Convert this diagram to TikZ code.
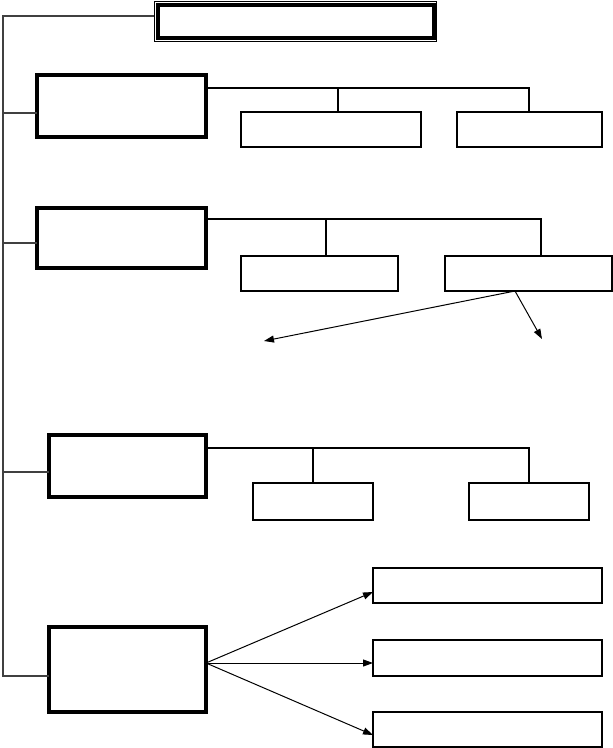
\documentclass[tikz,border=0pt]{standalone}
\usetikzlibrary{arrows.meta}
\begin{document}
\begin{tikzpicture}[x=1pt,y=-1pt,
  trunk/.style={draw=black!75,line width=1.6pt},
  bigbox/.style={draw,line width=3.6pt,inner sep=0pt,outer sep=0pt},
  smallbox/.style={draw,line width=1.2pt,inner sep=0pt,outer sep=0pt},
  link/.style={line width=1.2pt},
  arr/.style={line width=1pt,-{Triangle[length=10pt,width=7pt]}}]
\useasboundingbox (0,0) rectangle (613,748);
% top box
\node[draw,line width=0.8pt,minimum width=282pt,minimum height=40pt,inner sep=0pt,outer sep=0pt] (top) at (295,21) {};
\node[draw,line width=4pt,minimum width=276pt,minimum height=33pt,inner sep=0pt] (topin) at (295.5,21) {};
% group boxes
\node[bigbox,minimum width=169pt,minimum height=62pt] (g1) at (121.5,106) {};
\node[bigbox,minimum width=169pt,minimum height=60pt] (g2) at (121.5,238) {};
\node[bigbox,minimum width=157pt,minimum height=62pt] (g3) at (127.5,466) {};
\node[bigbox,minimum width=157pt,minimum height=85pt] (g4) at (127.5,669.5) {};
% children
\node[smallbox,minimum width=180pt,minimum height=35pt] (c11) at (331,129.5) {};
\node[smallbox,minimum width=145pt,minimum height=35pt] (c12) at (529.5,129.5) {};
\node[smallbox,minimum width=157pt,minimum height=35pt] (c21) at (319.5,273.5) {};
\node[smallbox,minimum width=167pt,minimum height=35pt] (c22) at (528.5,273.5) {};
\node[smallbox,minimum width=120pt,minimum height=37pt] (c31) at (313,501.5) {};
\node[smallbox,minimum width=120pt,minimum height=37pt] (c32) at (529,501.5) {};
\node[smallbox,minimum width=229pt,minimum height=35pt] (c41) at (487.5,585.5) {};
\node[smallbox,minimum width=229pt,minimum height=36pt] (c42) at (487.5,658) {};
\node[smallbox,minimum width=229pt,minimum height=35pt] (c43) at (487.5,729.5) {};
% trunk
\coordinate (t0) at (3,16);
\coordinate (t1) at (3,113);
\coordinate (t2) at (3,243);
\coordinate (t3) at (3,472);
\coordinate (t4) at (3,676);
\draw[trunk] (top.west |- t0) -- (t0) -- (t4) -- (g4.west |- t4);
\draw[trunk] (t1) -- (g1.west |- t1);
\draw[trunk] (t2) -- (g2.west |- t2);
\draw[trunk] (t3) -- (g3.west |- t3);
% group 1 links
\coordinate (h1a) at (338,88);
\coordinate (h1b) at (529,88);
\draw[link] (g1.east |- h1a) -- (h1b) -- (h1b |- c12.north);
\draw[link] (h1a) -- (h1a |- c11.north);
% group 2 links
\coordinate (h2a) at (326,219);
\coordinate (h2b) at (541,219);
\draw[link] (g2.east |- h2a) -- (h2b) -- (h2b |- c22.north);
\draw[link] (h2a) -- (h2a |- c21.north);
\coordinate (s2) at (515,291);
\coordinate (e2a) at (264,341);
\coordinate (e2b) at (542,339);
\draw[arr] (c22.south -| s2) -- (e2a);
\draw[arr] (c22.south -| s2) -- (e2b);
% group 3 links
\coordinate (h3a) at (313,448);
\coordinate (h3b) at (529,448);
\draw[link] (g3.east |- h3a) -- (h3b) -- (h3b |- c32.north);
\draw[link] (h3a) -- (h3a |- c31.north);
% group 4 arrows
\coordinate (o4) at (206,663);
\coordinate (a41) at (373,592);
\coordinate (a43) at (373,735);
\draw[arr] (g4.east |- o4) -- (c41.west |- a41);
\draw[arr] (g4.east |- o4) -- (c42.west |- o4);
\draw[arr] (g4.east |- o4) -- (c43.west |- a43);
\end{tikzpicture}
\end{document}
